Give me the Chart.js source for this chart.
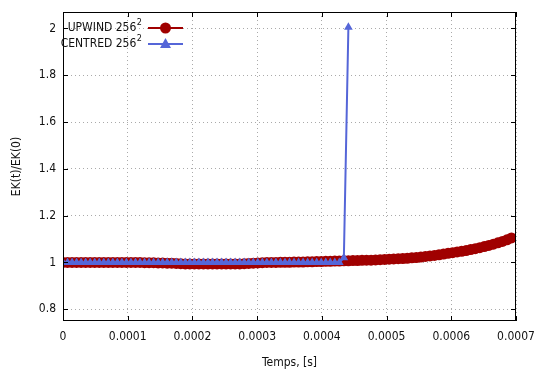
<!DOCTYPE html>
<html lang="fr">
<head>
    <meta charset="UTF-8">
    <title>EK(t)/EK(0)</title>
    <script src="https://cdn.jsdelivr.net/npm/chart.js"></script>
    <style>
        html, body { margin: 0; padding: 0; background: #fff; }
        #chart { display: block; }
    </style>
</head>
<body>
    <canvas id="chart" width="536" height="370"></canvas>
    <script>
        // time samples (s)
        const times = [
            0, 0.000007, 0.000014, 0.000021, 0.000028, 0.000035, 0.000042, 0.000049, 0.000056, 0.000063,
            0.00007, 0.000077, 0.000084, 0.000091, 0.000098, 0.000105, 0.000112, 0.000119, 0.000126, 0.000133,
            0.00014, 0.000147, 0.000154, 0.000161, 0.000168, 0.000175, 0.000182, 0.000189, 0.000196, 0.000203,
            0.00021, 0.000217, 0.000224, 0.000231, 0.000238, 0.000245, 0.000252, 0.000259, 0.000266, 0.000273,
            0.00028, 0.000287, 0.000294, 0.000301, 0.000308, 0.000315, 0.000322, 0.000329, 0.000336, 0.000343,
            0.00035, 0.000357, 0.000364, 0.000371, 0.000378, 0.000385, 0.000392, 0.000399, 0.000406, 0.000413,
            0.00042, 0.000427, 0.000434, 0.000441, 0.000448, 0.000455, 0.000462, 0.000469, 0.000476, 0.000483,
            0.00049, 0.000497, 0.000504, 0.000511, 0.000518, 0.000525, 0.000532, 0.000539, 0.000546, 0.000553,
            0.00056, 0.000567, 0.000574, 0.000581, 0.000588, 0.000595, 0.000602, 0.000609, 0.000616, 0.000623,
            0.00063, 0.000637, 0.000644, 0.000651, 0.000658, 0.000665, 0.000672, 0.000679, 0.000686, 0.000693
        ];

        // UPWIND 256^2 : EK(t)/EK(0)
        const upwind = [
            1.000, 1.000, 1.000, 1.000, 1.000, 1.000, 1.000, 1.000, 1.000, 1.000,
            1.000, 1.000, 1.000, 1.000, 1.000, 1.000, 1.000, 1.000, 0.999, 0.999,
            0.999, 0.998, 0.998, 0.997, 0.997, 0.996, 0.995, 0.994, 0.994, 0.994,
            0.994, 0.994, 0.994, 0.994, 0.994, 0.994, 0.994, 0.994, 0.994, 0.994,
            0.995, 0.996, 0.997, 0.998, 0.999, 1.000, 1.000, 1.000, 1.001, 1.001,
            1.001, 1.002, 1.002, 1.002, 1.003, 1.003, 1.004, 1.004, 1.005, 1.005,
            1.006, 1.006, 1.007, 1.007, 1.008, 1.008, 1.009, 1.010, 1.010, 1.011,
            1.012, 1.013, 1.014, 1.015, 1.016, 1.017, 1.018, 1.020, 1.021, 1.023,
            1.026, 1.028, 1.030, 1.033, 1.036, 1.039, 1.042, 1.045, 1.048, 1.051,
            1.055, 1.059, 1.063, 1.068, 1.073, 1.078, 1.084, 1.090, 1.097, 1.105
        ];

        // CENTRED 256^2 : EK(t)/EK(0), blows up after 0.00044 s
        const centred = [
            1.000, 1.000, 1.000, 1.000, 1.000, 1.000, 1.000, 1.000, 1.000, 1.000,
            1.000, 1.000, 1.000, 1.000, 1.000, 1.000, 1.000, 1.000, 1.000, 1.000,
            1.000, 1.000, 1.000, 1.000, 1.000, 1.000, 1.000, 1.000, 1.000, 1.000,
            1.000, 1.000, 1.000, 1.000, 1.000, 1.000, 1.000, 1.000, 1.000, 1.000,
            1.000, 1.000, 1.000, 1.000, 1.000, 1.000, 1.000, 1.000, 1.000, 1.000,
            1.000, 1.000, 1.000, 1.000, 1.000, 1.000, 1.000, 1.000, 1.000, 1.000,
            1.000, 1.000, 1.020, 2.005
        ];

        const xTicks = [0, 0.0001, 0.0002, 0.0003, 0.0004, 0.0005, 0.0006, 0.0007];
        const yTicks = [0.8, 1, 1.2, 1.4, 1.6, 1.8, 2];

        const RED = "#a00000";
        const BLUE = "#5566d8";
        const FONT = "'DejaVu Sans Condensed', 'DejaVu Sans', sans-serif";

        // gnuplot-style frame, inward ticks and key
        const framePlugin = {
            id: "frame",
            afterDraw(chart) {
                const { ctx, chartArea: a, scales } = chart;
                ctx.save();
                ctx.strokeStyle = "#000";
                ctx.lineWidth = 1;
                ctx.strokeRect(a.left + 0.5, a.top + 0.5, a.right - a.left - 1, a.bottom - a.top - 1);
                ctx.beginPath();
                xTicks.forEach(v => {
                    const x = Math.round(scales.x.getPixelForValue(v)) + 0.5;
                    ctx.moveTo(x, a.bottom); ctx.lineTo(x, a.bottom - 5);
                    ctx.moveTo(x, a.top); ctx.lineTo(x, a.top + 5);
                });
                yTicks.forEach(v => {
                    const y = Math.round(scales.y.getPixelForValue(v)) + 0.5;
                    ctx.moveTo(a.left, y); ctx.lineTo(a.left + 5, y);
                    ctx.moveTo(a.right, y); ctx.lineTo(a.right - 5, y);
                });
                ctx.stroke();

                // key
                const rows = [
                    { label: "UPWIND 256", color: RED, shape: "circle", y: 28 },
                    { label: "CENTRED 256", color: BLUE, shape: "triangle", y: 44 }
                ];
                const textRight = 142;
                rows.forEach(r => {
                    ctx.fillStyle = "#111";
                    ctx.textBaseline = "middle";
                    ctx.font = "9px " + FONT;
                    ctx.textAlign = "right";
                    ctx.fillText("2", textRight, r.y - 5);
                    const supW = ctx.measureText("2").width;
                    ctx.font = "12px " + FONT;
                    ctx.fillText(r.label, textRight - supW - 0.5, r.y);

                    ctx.strokeStyle = r.color;
                    ctx.lineWidth = 2;
                    ctx.beginPath();
                    ctx.moveTo(148, r.y); ctx.lineTo(183, r.y);
                    ctx.stroke();
                    ctx.fillStyle = r.color;
                    ctx.beginPath();
                    if (r.shape === "circle") {
                        ctx.arc(165.5, r.y, 5.5, 0, Math.PI * 2);
                    } else {
                        ctx.moveTo(165.5, r.y - 6);
                        ctx.lineTo(171, r.y + 4);
                        ctx.lineTo(160, r.y + 4);
                        ctx.closePath();
                    }
                    ctx.fill();
                });
                ctx.restore();
            }
        };

        const data = {
            datasets: [
                {
                    label: "CENTRED 256²",
                    data: centred.map((v, i) => ({ x: times[i], y: v })),
                    borderColor: BLUE,
                    backgroundColor: BLUE,
                    borderWidth: 2,
                    pointStyle: "triangle",
                    pointRadius: 5,
                    pointBorderWidth: 0,
                    tension: 0,
                    order: 0
                },
                {
                    label: "UPWIND 256²",
                    data: upwind.map((v, i) => ({ x: times[i], y: v })),
                    borderColor: RED,
                    backgroundColor: RED,
                    borderWidth: 2,
                    pointStyle: "circle",
                    pointRadius: 5.5,
                    pointBorderWidth: 0,
                    tension: 0,
                    order: 1
                }
            ]
        };

        new Chart(document.getElementById("chart"), {
            type: "line",
            data,
            plugins: [framePlugin],
            options: {
                responsive: false,
                animation: false,
                layout: { padding: { left: 0, right: 20, top: 12, bottom: 0 } },
                plugins: {
                    legend: { display: false },
                    tooltip: { enabled: false }
                },
                scales: {
                    x: {
                        type: "linear",
                        min: 0,
                        max: 0.0007,
                        afterBuildTicks: s => { s.ticks = xTicks.map(v => ({ value: v })); },
                        afterFit: s => { s.height = 49; s.paddingLeft = 0; s.paddingRight = 0; },
                        ticks: {
                            color: "#111",
                            font: { family: FONT, size: 12 },
                            padding: 9,
                            maxRotation: 0,
                            callback: v => String(v)
                        },
                        grid: { color: "#aaa", drawTicks: false },
                        border: { display: false, dash: [1, 3] },
                        title: {
                            display: true,
                            text: "Temps, [s]",
                            color: "#111",
                            font: { family: FONT, size: 12 },
                            padding: { top: 5, bottom: 0 }
                        }
                    },
                    y: {
                        min: 0.75,
                        max: 2.07,
                        afterBuildTicks: s => { s.ticks = yTicks.map(v => ({ value: v })); },
                        afterFit: s => { s.width = 63; s.paddingTop = 0; s.paddingBottom = 0; },
                        ticks: {
                            color: "#111",
                            font: { family: FONT, size: 12 },
                            padding: 7,
                            callback: v => String(v)
                        },
                        grid: { color: "#aaa", drawTicks: false },
                        border: { display: false, dash: [1, 3] },
                        title: {
                            display: true,
                            text: "EK(t)/EK(0)",
                            color: "#111",
                            font: { family: FONT, size: 12 },
                            padding: { top: 10, bottom: 0 }
                        }
                    }
                }
            }
        });
    </script>
</body>
</html>
